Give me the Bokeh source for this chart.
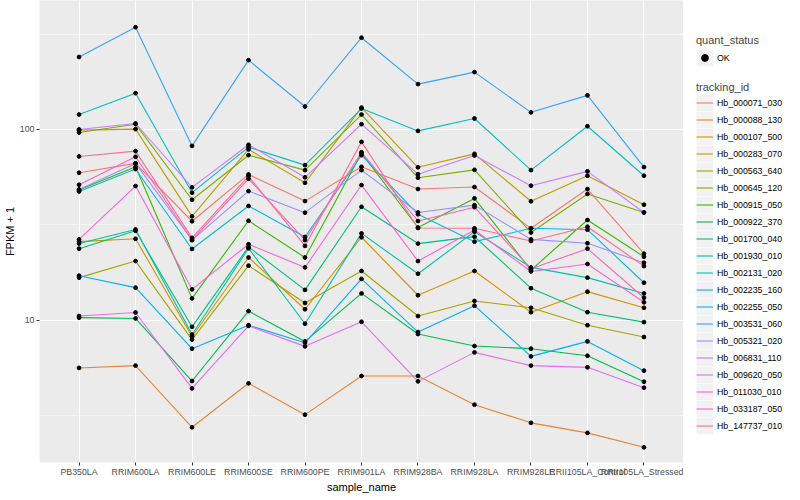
from bokeh.plotting import figure
from bokeh.layouts import row
from bokeh.models import (FactorRange, Range1d, FixedTicker, BasicTickFormatter,
                          Legend, LegendItem)
from bokeh.embed import file_html
from bokeh.resources import INLINE

samples = ["PB350LA", "RRIM600LA", "RRIM600LE", "RRIM600SE", "RRIM600PE", "RRIM901LA",
           "RRIM928BA", "RRIM928LA", "RRIM928LE", "RRII105LA_Control", "RRII105LA_Stressed"]

tracking_ids = ["Hb_000071_030", "Hb_000088_130", "Hb_000107_500", "Hb_000283_070",
                "Hb_000563_640", "Hb_000645_120", "Hb_000915_050", "Hb_000922_370",
                "Hb_001700_040", "Hb_001930_010", "Hb_002131_020", "Hb_002235_160",
                "Hb_002255_050", "Hb_003531_060", "Hb_005321_020", "Hb_006831_110",
                "Hb_009620_050", "Hb_011030_010", "Hb_033187_050", "Hb_147737_010"]

colors = ["#F8766D", "#EA8331", "#D89000", "#C09B00", "#A3A500", "#7CAE00", "#39B600",
          "#00BB4E", "#00BF7D", "#00C1A3", "#00BFC4", "#00BAE0", "#00B0F6", "#35A2FF",
          "#9590FF", "#C77CFF", "#E76BF3", "#FA62DB", "#FF62BC", "#FF6C91"]

# FPKM + 1 per sample, in the order of `samples`
hb_000071_030 = [59.3, 66.4, 33.0, 58.1, 42.1, 63.7, 48.7, 49.9, 30.3, 48.7, 22.3]
hb_000088_130 = [5.61, 5.77, 2.74, 4.66, 3.19, 5.09, 5.09, 3.60, 2.89, 2.56, 2.15]
hb_000107_500 = [25.8, 26.7, 8.2, 21.3, 11.4, 27.2, 13.5, 18.1, 11.0, 14.1, 11.6]
hb_000283_070 = [99.2, 100.4, 35.0, 78.6, 52.5, 130.3, 63.3, 74.5, 42.0, 57.2, 40.3]
hb_000563_640 = [16.7, 20.4, 7.9, 19.3, 12.3, 18.1, 10.5, 12.6, 11.6, 9.4, 8.15]
hb_000645_120 = [96.4, 106.6, 42.8, 73.3, 61.2, 119.8, 55.8, 61.4, 28.8, 45.9, 36.7]
hb_000915_050 = [48.1, 63.7, 13.0, 33.2, 21.3, 75.1, 30.6, 43.5, 18.3, 33.5, 21.5]
hb_000922_370 = [10.3, 10.2, 4.79, 11.15, 7.73, 13.8, 8.45, 7.31, 7.08, 6.5, 4.75]
hb_001700_040 = [23.7, 29.4, 9.22, 24.2, 14.4, 39.3, 25.2, 27.4, 14.7, 11.0, 9.76]
hb_001930_010 = [25.2, 29.9, 8.4, 23.8, 9.57, 28.5, 17.5, 29.1, 18.9, 16.7, 13.8]
hb_002131_020 = [119.8, 155.0, 46.6, 80.8, 65.0, 128.8, 98.3, 114.2, 61.2, 104.0, 57.2]
hb_002235_160 = [47.3, 62.0, 23.6, 39.7, 27.3, 73.3, 35.9, 25.8, 30.3, 29.8, 15.7]
hb_002255_050 = [17.1, 14.8, 7.08, 9.4, 7.6, 16.45, 8.65, 11.9, 6.45, 7.73, 5.43]
hb_003531_060 = [240.0, 344.0, 82.0, 231.0, 132.0, 303.0, 173.0, 200.0, 123.0, 151.0, 63.5]
hb_005321_020 = [48.5, 66.4, 26.3, 47.5, 36.6, 61.2, 36.7, 40.1, 26.5, 25.3, 20.0]
hb_006831_110 = [100.0, 107.5, 49.7, 83.1, 56.1, 106.6, 58.3, 73.0, 50.7, 60.3, 36.7]
hb_009620_050 = [10.5, 10.96, 4.38, 9.33, 7.28, 9.8, 4.77, 6.77, 5.77, 5.65, 4.42]
hb_011030_010 = [26.5, 50.5, 14.5, 25.0, 18.9, 51.1, 20.4, 29.7, 18.0, 19.7, 12.4]
hb_033187_050 = [51.3, 71.9, 26.3, 55.1, 26.3, 76.0, 33.1, 39.1, 18.6, 23.7, 13.1]
hb_147737_010 = [72.2, 77.0, 27.0, 56.9, 24.5, 86.1, 30.4, 30.3, 26.0, 30.9, 19.2]

series = [hb_000071_030, hb_000088_130, hb_000107_500, hb_000283_070, hb_000563_640,
          hb_000645_120, hb_000915_050, hb_000922_370, hb_001700_040, hb_001930_010,
          hb_002131_020, hb_002235_160, hb_002255_050, hb_003531_060, hb_005321_020,
          hb_006831_110, hb_009620_050, hb_011030_010, hb_033187_050, hb_147737_010]

FONT = "Liberation Sans"

p = figure(x_range=FactorRange(factors=samples, range_padding=0.2, range_padding_units="absolute"),
           y_range=Range1d(1.79, 475), y_axis_type="log",
           frame_width=644, frame_height=462,
           min_border_left=32, min_border_right=0, min_border_top=0, min_border_bottom=0,
           output_backend="svg", toolbar_location=None,
           background_fill_color="#EBEBEB", border_fill_color="white",
           outline_line_color=None)

# grid
p.xgrid.grid_line_color = "white"
p.xgrid.grid_line_width = 1.1
p.ygrid.grid_line_color = "white"
p.ygrid.grid_line_width = 1.1
p.ygrid.minor_grid_line_color = "white"
p.ygrid.minor_grid_line_width = 0.55

# axes
p.yaxis.ticker = FixedTicker(ticks=[10, 100], minor_ticks=[10 ** 0.5, 10 ** 1.5, 10 ** 2.5])
p.yaxis.formatter = BasicTickFormatter()
for ax in (p.xaxis[0], p.yaxis[0]):
    ax.axis_line_color = None
    ax.major_tick_line_color = "#333333"
    ax.major_tick_in = 0
    ax.major_tick_out = 3
    ax.minor_tick_line_color = None
    ax.major_label_text_font = FONT
    ax.major_label_text_font_size = "8.8px"
    ax.major_label_text_color = "#4D4D4D"
    ax.major_label_standoff = 1
    ax.axis_label_text_font = FONT
    ax.axis_label_text_font_size = "11px"
    ax.axis_label_text_font_style = "normal"
    ax.axis_label_text_color = "black"
    ax.axis_label_standoff = 1
p.xaxis.axis_label = "sample_name"
p.yaxis.axis_label = "FPKM + 1"

for vals, col in zip(series, colors):
    p.line(x=samples, y=vals, line_color=col, line_width=1.1)

all_x = [s for vals in series for s in samples]
all_y = [v for vals in series for v in vals]
p.scatter(x=all_x, y=all_y, size=3.8, color="black")

# ---- legend panel (separate figure to the right) ----
lf = figure(width=108, height=482, x_range=Range1d(0, 1), y_range=Range1d(0, 1),
            min_border_left=0, min_border_right=0, min_border_top=0, min_border_bottom=0,
            output_backend="svg", toolbar_location=None,
            x_axis_location=None, y_axis_location=None,
            background_fill_color="white", border_fill_color="white",
            outline_line_color=None)
lf.xgrid.visible = False
lf.ygrid.visible = False

# key renderers hold a point outside the visible range so that only their legend glyphs show
off_x = [5, 6]
off_y = [5, 5]
key_bg = lf.line(x=off_x, y=off_y, line_color="#F2F2F2", line_width=17, line_cap="butt")
key_pt = lf.scatter(x=off_x, y=off_y, size=3.8, color="black")
key_lines = [lf.line(x=off_x, y=off_y, line_color=col, line_width=1.1) for col in colors]


def style_legend(leg):
    leg.padding = 0
    leg.margin = 0
    leg.spacing = 0
    leg.glyph_width = 17
    leg.glyph_height = 17
    leg.label_height = 17
    leg.label_standoff = 4
    leg.border_line_color = None
    leg.background_fill_alpha = 0
    leg.label_text_font = FONT
    leg.label_text_font_size = "8.8px"
    leg.label_text_color = "black"
    leg.title_text_font = FONT
    leg.title_text_font_size = "11px"
    leg.title_text_font_style = "normal"
    leg.title_standoff = 3


leg1 = Legend(items=[LegendItem(label="OK", renderers=[key_bg, key_pt])],
              title="quant_status", location=(13, 383))
style_legend(leg1)
leg2 = Legend(items=[LegendItem(label=tid, renderers=[key_bg, r])
                     for tid, r in zip(tracking_ids, key_lines)],
              title="tracking_id", location=(13, 15))
style_legend(leg2)
leg2.title_standoff = 1
lf.add_layout(leg1, "center")
lf.add_layout(leg2, "center")

layout = row(p, lf)
open("out.html", "w").write(file_html(layout, INLINE))
